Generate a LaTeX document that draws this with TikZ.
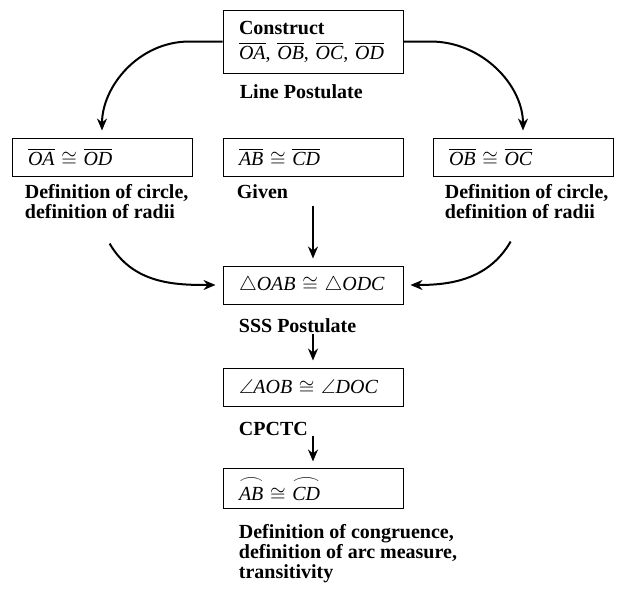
\documentclass[tikz,border=0pt]{standalone}
\usepackage{amsmath,amssymb}
\usepackage{graphicx}
\usepackage{fontspec}
\setmainfont{Liberation Serif}
\usetikzlibrary{arrows.meta,positioning}

\newcommand{\segm}[1]{\ensuremath{\overline{\mbox{\itshape #1}}}}
\newlength{\arcwd}
\newcommand{\arcm}[1]{\settowidth{\arcwd}{\itshape #1}\ensuremath{\overset{\resizebox{\arcwd}{0.6ex}{$\frown$}}{\mbox{\itshape #1}}}}

\begin{document}
\begin{tikzpicture}[x=0.5pt,y=-0.5pt,font=\fontsize{10}{12}\selectfont,
box/.style={draw,line width=0.5pt,align=left,text width=74pt,inner xsep=8pt,minimum height=19pt},
lab/.style={align=left,inner sep=0pt,anchor=north west,font=\fontsize{10}{10}\selectfont\bfseries},
arr/.style={-{Stealth[length=6pt,width=5pt,inset=2pt]},line width=1pt,shorten >=3.5pt},
stem/.style={arr,shorten <=14.5pt}]
\useasboundingbox (0,0) rectangle (633,589);
% boxes
\node[box,minimum height=31.5pt] (con) at (313,41.5) {\textbf{Construct}\\[0.5pt]\segm{OA}, \segm{OB}, \segm{OC}, \segm{OD}};
\node[box] (oaod) at (102,157) {\segm{OA} $\cong$ \segm{OD}};
\node[box] (abcd) at (313,157) {\segm{AB} $\cong$ \segm{CD}};
\node[box] (oboc) at (523,157) {\segm{OB} $\cong$ \segm{OC}};
\node[box] (tri) at (313,285) {$\triangle$\textit{OAB} $\cong$ $\triangle$\textit{ODC}};
\node[box] (ang) at (313,387) {$\angle$\textit{AOB} $\cong$ $\angle$\textit{DOC}};
\node[box] (arcs) at (313,488.5) {\arcm{AB} $\cong$ \arcm{CD}};
% reasons
\node[lab] (conlab) at ([shift={(17,11)}]con.south west) {Line Postulate};
\node[lab] (lcirc) at ([shift={(13,8)}]oaod.south west) {Definition of circle,\\definition of radii};
\node[lab] (given) at ([shift={(14,8)}]abcd.south west) {Given};
\node[lab] (rcirc) at ([shift={(12,8)}]oboc.south west) {Definition of circle,\\definition of radii};
\node[lab] (trilab) at ([shift={(16,14)}]tri.south west) {SSS Postulate};
\node[lab] (anglab) at ([shift={(16,15)}]ang.south west) {CPCTC};
\node[lab] (arclab) at ([shift={(16,15)}]arcs.south west) {Definition of congruence,\\definition of arc measure,\\transitivity};
% arrows
\draw[arr] (con.west) -- ++(-33,0) to[out=180,in=90] (oaod.north);
\draw[arr] (con.east) -- ++(27,0) to[out=0,in=90] (oboc.north);
\draw[arr] ([shift={(3,24)}]lcirc.south) to[out=-60,in=180] (tri.west);
\draw[arr] ([shift={(-16,22)}]rcirc.south) to[out=240,in=0] (tri.east);
\draw[stem] (abcd) -- (tri);
\draw[stem] (tri) -- (ang);
\draw[stem] (ang) -- (arcs);
\end{tikzpicture}
\end{document}
